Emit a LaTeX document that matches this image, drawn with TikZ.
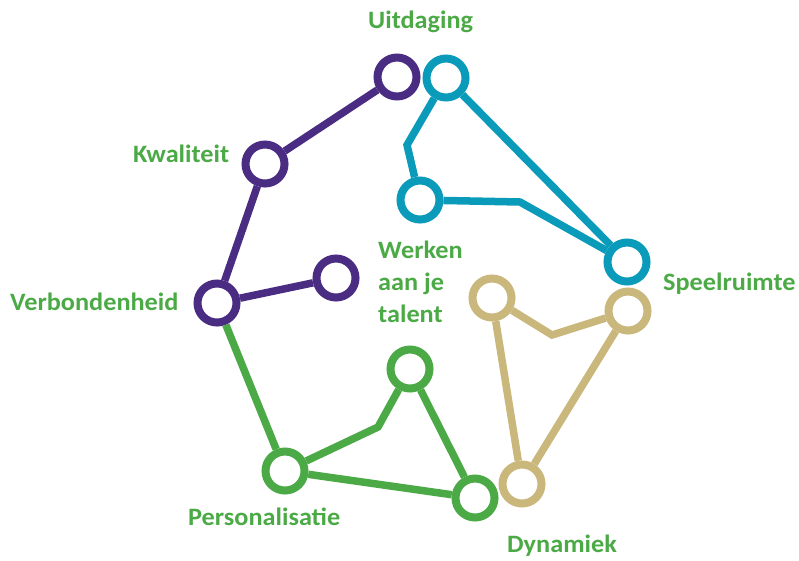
\documentclass[tikz,border=0pt]{standalone}
\usepackage{fontspec}
\setmainfont{Carlito}[FakeStretch=1.05]
\definecolor{cpurple}{HTML}{4B2C83}
\definecolor{cblue}{HTML}{0A9ABA}
\definecolor{cgreen}{HTML}{4BAA46}
\definecolor{ctan}{HTML}{C9B77C}
\tikzset{
  ring/.style={circle,draw=#1,line width=8pt,fill=white,minimum size=39pt,inner sep=0pt},
  link/.style={draw=#1,line width=7.5pt,line join=miter},
  lbl/.style={text=cgreen,font=\fontsize{25}{29}\selectfont\bfseries,anchor=base west,inner sep=0pt}
}
\begin{document}
\begin{tikzpicture}[x=1pt,y=-1pt]
\useasboundingbox (0,0) rectangle (799,560);
% purple
\node[ring=cpurple] (p1) at (397,77) {};
\node[ring=cpurple] (p2) at (265,164) {};
\node[ring=cpurple] (p3) at (217,303) {};
\node[ring=cpurple] (p4) at (336,278) {};
% blue
\node[ring=cblue] (b1) at (446,78) {};
\node[ring=cblue] (b2) at (420,200) {};
\node[ring=cblue] (b3) at (627,262) {};
\coordinate (bk1) at (407,145);
\coordinate (bk2) at (520,202);
% green
\node[ring=cgreen] (g1) at (285,471) {};
\node[ring=cgreen] (g2) at (410,369) {};
\node[ring=cgreen] (g3) at (475,498) {};
\coordinate (gk) at (378,427);
% tan
\node[ring=ctan] (t1) at (492,298) {};
\node[ring=ctan] (t2) at (628,311) {};
\node[ring=ctan] (t3) at (522,484) {};
\coordinate (tk) at (552,335);
% links
\path[link=cpurple] (p1) -- (p2);
\path[link=cpurple] (p2) -- (p3);
\path[link=cpurple] (p3) -- (p4);
\path[link=cblue] (b1) -- (bk1) -- (b2);
\path[link=cblue] (b2) -- (bk2) -- (b3);
\path[link=cblue] (b1) -- (b3);
\path[link=cgreen] (p3) -- (g1);
\path[link=cgreen] (g1) -- (gk) -- (g2);
\path[link=cgreen] (g2) -- (g3);
\path[link=cgreen] (g1) -- (g3);
\path[link=ctan] (t1) -- (tk) -- (t2);
\path[link=ctan] (t1) -- (t3);
\path[link=ctan] (t2) -- (t3);
% labels
\node[lbl] (l1) at (368,28) {Uitdaging};
\node[lbl] (l2) at (133,162) {Kwaliteit};
\node[lbl] (l3) at (10,310) {Verbondenheid};
\node[lbl] (l4) at (663,290) {Speelruimte};
\node[lbl] (l5) at (188,525) {Personalisatie};
\node[lbl] (l6) at (507,552) {Dynamiek};
\node[lbl] (l7) at (378,258) {Werken};
\node[lbl] (l8) at (378,290) {aan je};
\node[lbl] (l9) at (378,322) {talent};
\end{tikzpicture}
\end{document}
